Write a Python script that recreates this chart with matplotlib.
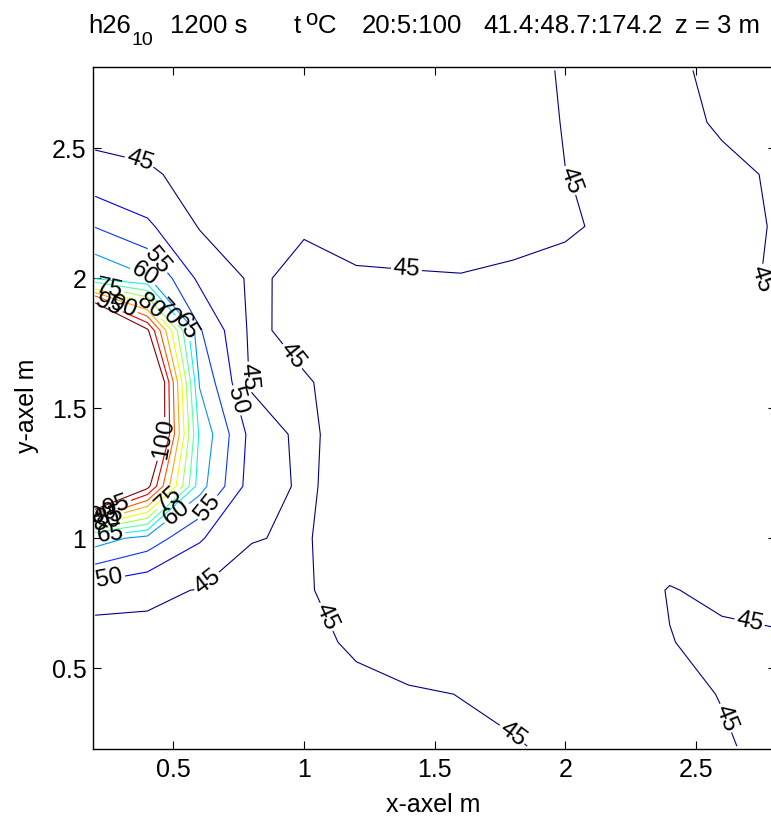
import numpy as np
import matplotlib
matplotlib.use("Agg")
import matplotlib.pyplot as plt
from matplotlib.colors import Normalize
import warnings
warnings.filterwarnings("ignore")

plt.rcParams['font.family'] = ['Liberation Sans', 'DejaVu Sans']

# grid coordinates (m)
x_vals = [0.2, 0.4, 0.6, 0.8, 1.0, 1.2, 1.4, 1.6, 1.8, 2.0, 2.2, 2.4, 2.6, 2.8]
y_vals = [0.2, 0.4, 0.6, 0.8, 1.0, 1.2, 1.4, 1.6, 1.8, 2.0, 2.2, 2.4, 2.6, 2.8]

# temperature (deg C), one row per y value (bottom to top)
t_y02 = [42.5, 43.0, 43.5, 43.5, 43.5, 43.8, 44.0, 44.5, 44.7, 45.8, 46.0, 45.6, 45.2, 44.5]
t_y04 = [41.4, 43.0, 43.5, 43.5, 43.5, 44.1, 44.68, 45.05, 46.0, 46.5, 46.0, 45.5, 44.93, 44.0]
t_y06 = [42.3, 44.1, 44.0, 43.5, 44.0, 45.54, 46.5, 47.0, 47.0, 47.0, 46.5, 45.05, 44.6, 44.6]
t_y08 = [47.5, 45.6, 44.87, 43.2, 44.5, 47.0, 47.5, 47.5, 47.5, 47.0, 46.0, 44.9, 45.4, 46.0]
t_y10 = [62.5, 58.1, 50.5, 45.2, 44.5, 47.7, 48.0, 48.0, 48.0, 48.0, 47.5, 46.0, 46.5, 47.0]
t_y12 = [130.0, 102.0, 62.0, 47.5, 44.2, 47.2, 47.5, 48.0, 48.0, 48.0, 48.0, 48.0, 48.0, 48.0]
t_y14 = [165.0, 118.0, 64.0, 48.2, 43.6, 48.1, 47.5, 48.0, 48.0, 48.0, 48.0, 48.0, 48.0, 48.0]
t_y16 = [174.2, 120.0, 59.5, 44.2, 44.5, 47.2, 47.0, 47.5, 47.5, 48.0, 48.0, 48.0, 48.0, 47.5]
t_y18 = [140.0, 101.0, 55.5, 43.9, 46.76, 47.0, 47.0, 47.0, 47.0, 47.5, 47.5, 47.5, 47.5, 46.5]
t_y20 = [64.5, 60.5, 48.9, 44.3, 46.1, 45.33, 45.2, 45.11, 45.54, 46.17, 47.0, 47.5, 47.0, 44.33]
t_y22 = [54.8, 50.9, 44.7, 44.0, 44.63, 44.0, 44.0, 44.0, 44.0, 44.5, 45.83, 47.0, 46.5, 44.77]
t_y24 = [46.5, 45.3, 44.3, 44.0, 44.0, 44.0, 44.0, 44.0, 44.2, 44.95, 45.55, 47.0, 45.74, 44.7]
t_y26 = [43.3, 44.0, 44.0, 44.0, 44.0, 44.0, 44.0, 43.5, 42.3, 45.3, 46.5, 46.0, 44.6, 43.5]
t_y28 = [43.0, 43.5, 44.0, 44.0, 44.0, 44.0, 44.0, 43.5, 43.0, 45.5, 46.5, 45.8, 44.0, 43.5]

levels = list(range(20, 101, 5))
x_ticks = [0.5, 1.0, 1.5, 2.0, 2.5]
x_ticklabels = ['0.5', '1', '1.5', '2', '2.5']
y_ticks = [0.5, 1.0, 1.5, 2.0, 2.5]
y_ticklabels = ['0.5', '1', '1.5', '2', '2.5']

Z = np.array([t_y02, t_y04, t_y06, t_y08, t_y10, t_y12, t_y14,
              t_y16, t_y18, t_y20, t_y22, t_y24, t_y26, t_y28])
X, Y = np.meshgrid(x_vals, y_vals)

W, H = 771, 816
fig = plt.figure(figsize=(W / 100, H / 100), dpi=100)
ax_l, ax_r, ax_t, ax_b = 93.3, 776.0, 67.3, 749.3
ax = fig.add_axes([ax_l / W, 1 - ax_b / H, (ax_r - ax_l) / W, (ax_b - ax_t) / H])
ax.set_xlim(0.193, 2.807)
ax.set_ylim(0.188, 2.812)

# label placement hints (layout), per contour level
label_spots = {
    45: [(0.37, 2.45), (0.78, 1.62), (0.93, 1.68), (1.39, 2.01), (2.03, 2.38),
         (2.755, 2.0), (1.07, 0.69), (1.78, 0.22), (2.70, 0.65), (2.62, 0.31),
         (0.63, 0.83)],
    50: [(0.74, 1.53), (0.26, 0.82)],
    55: [(0.43, 2.06), (0.61, 1.135)],
    60: [(0.38, 1.995), (0.51, 1.10)],
    65: [(0.52, 1.79), (0.26, 0.99)],
    70: [(0.46, 1.85)],
    75: [(0.25, 1.945), (0.48, 1.15)],
    80: [(0.40, 1.88), (0.25, 1.04)],
    85: [(0.26, 1.06)],
    90: [(0.30, 1.87), (0.24, 1.07)],
    95: [(0.24, 1.87), (0.29, 1.10)],
    100: [(0.465, 1.38)],
}

cmap = plt.get_cmap('jet')
norm = Normalize(45, 100)
zmin, zmax = Z.min(), Z.max()
for lev in levels:
    if not (zmin < lev < zmax):
        continue
    cs = ax.contour(X, Y, Z, levels=[lev], colors=[cmap(norm(lev))],
                    linewidths=0.8)
    if lev in label_spots:
        ax.clabel(cs, manual=label_spots[lev], fontsize=17.5, colors='k',
                  inline=True, inline_spacing=2, fmt='%d')

ax.set_xticks(x_ticks)
ax.set_xticklabels(x_ticklabels)
ax.set_yticks(y_ticks)
ax.set_yticklabels(y_ticklabels)
ax.tick_params(direction='in', length=6, width=0.8, top=True, right=True,
               labelsize=18, colors='k')
ax.tick_params(axis='x', pad=6)
ax.tick_params(axis='y', pad=5)
for s in ax.spines.values():
    s.set_linewidth(1.0)

# title pieces
fs = 18.5
base = 1 - 33 / H
renderer = fig.canvas.get_renderer()
t_h = fig.text(88 / W, base, 'h26', fontsize=fs, ha='left', va='baseline')
bb = t_h.get_window_extent(renderer)
fig.text((bb.x1 + 1) / W, 1 - 45 / H, '10', fontsize=14, ha='left', va='baseline')
fig.text(170 / W, base, '1200 s', fontsize=fs, ha='left', va='baseline')
fig.text(294 / W, base, 't', fontsize=fs, ha='left', va='baseline')
fig.text(305 / W, 1 - 25 / H, 'o', fontsize=16, ha='left', va='baseline')
fig.text(318 / W, base, 'C', fontsize=fs, ha='left', va='baseline')
fig.text(362 / W, base, '20:5:100', fontsize=fs, ha='left', va='baseline')
fig.text(483 / W, base, '41.4:48.7:174.2', fontsize=fs, ha='left', va='baseline')
fig.text(675 / W, base, 'z = 3 m', fontsize=fs, ha='left', va='baseline')

fig.text(433 / W, 1 - 812 / H, 'x-axel m', fontsize=18, ha='center', va='baseline')
fig.text(27 / W, 1 - 406 / H, 'y-axel m', fontsize=18, ha='center', va='center',
         rotation=90)

fig.savefig('out.png', dpi=100)
